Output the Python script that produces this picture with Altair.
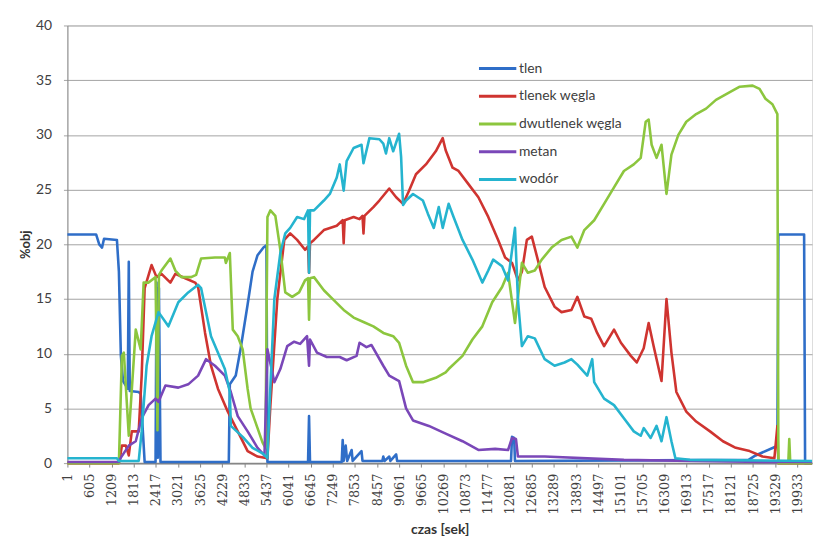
import altair as alt
import pandas as pd

series_names = ["tlen", "tlenek węgla", "dwutlenek węgla", "metan", "wodór"]
series_colors = ["#2F6EC8", "#CF3430", "#8CC63E", "#7A47B8", "#25B4CF"]
x_tick_values = list(range(1, 19934, 604))

tlen_t = [1, 785, 870, 947, 1001, 1353, 1407, 1461, 1520, 1650, 1677, 1704, 1948, 2002, 2110,
          2408, 2435, 2470, 2500, 2543, 4408, 4436, 4598, 4733, 4922, 5057, 5193, 5355, 5436, 5463,
          6572, 6599, 6626, 7491, 7518, 7545, 7600, 7640, 7762, 7790, 8032, 8059, 8600, 8627, 8660,
          8790, 8820, 8978, 9005, 12115, 12142, 12200, 12223, 18600, 18793, 19334, 19388, 19415,
          20118, 20145, 20334]
tlen_v = [20.9, 20.9, 20.0, 19.7, 20.5, 20.4, 17.5, 9.8, 7.5, 6.8, 18.4, 6.6, 6.5, 6.3, 0.1,
          0.1, 16.5, 0.5, 16.0, 0.1, 0.1, 7.2, 8.0, 10.5, 14.5, 17.5, 19.0, 19.7, 19.9, 0.1,
          0.1, 4.3, 0.1, 0.1, 2.1, 0.2, 1.6, 0.2, 1.2, 0.2, 1.1, 0.2, 0.2, 0.6, 0.2,
          0.6, 0.2, 0.8, 0.2, 0.2, 2.4, 2.3, 0.2, 0.3, 0.7, 1.5, 1.5, 20.9,
          20.9, 0.0, 0.0]

co_t = [1, 1407, 1461, 1488, 1596, 1677, 1759, 1948, 2029, 2110, 2299, 2435, 2570, 2813, 2948,
        3219, 3489, 3570, 3760, 3922, 4111, 4381, 4652, 4922, 5193, 5463, 5544, 5733, 5923, 6085,
        6274, 6490, 6572, 6599, 6626, 6734, 7004, 7356, 7518, 7545, 7572, 7816, 7978, 8059, 8086,
        8113, 8356, 8519, 8789, 8978, 9167, 9330, 9519, 9790, 10060, 10249, 10330, 10519, 10681,
        10952, 11223, 11493, 11763, 11953, 12142, 12304, 12412, 12547, 12683, 12845, 13034, 13304,
        13494, 13764, 13927, 14116, 14305, 14467, 14656, 14927, 15116, 15386, 15548, 15738, 15873,
        16008, 16224, 16360, 16495, 16630, 16901, 17171, 17549, 17901, 18252, 18631, 18982, 19307,
        19388, 19415, 20334]
co_v = [0.0, 0.0, 1.0, 1.6, 1.6, 0.7, 2.9, 2.9, 8.0, 16.0, 18.1, 17.0, 17.3, 16.5, 17.3,
        16.9, 16.5, 16.1, 11.9, 8.9, 6.8, 4.7, 2.9, 1.1, 0.6, 0.45, 5.3, 15.0, 20.4, 21.0,
        20.4, 19.5, 19.8, 17.4, 20.1, 20.4, 21.3, 21.7, 22.2, 20.1, 22.2, 22.5, 22.3, 22.6, 21.0,
        22.6, 23.4, 24.0, 25.1, 24.3, 23.7, 24.9, 26.4, 27.3, 28.5, 29.7, 28.6, 27.0, 26.7,
        25.5, 24.3, 22.5, 20.4, 18.8, 18.3, 16.7, 17.5, 20.4, 20.7, 18.6, 16.1, 14.3,
        13.8, 14.0, 15.2, 13.4, 13.2, 11.9, 10.7, 12.2, 11.0, 9.8, 9.2, 10.5, 12.8,
        10.7, 7.5, 15.0, 10.1, 6.5, 4.7, 3.8, 2.9, 2.0, 1.4, 1.1, 0.6, 0.45,
        3.4, 0.0, 0.0]

co2_t = [1, 1407, 1488, 1542, 1677, 1867, 2002, 2083, 2218, 2408, 2460, 2500, 2570, 2813, 2948,
         3111, 3381, 3516, 3651, 4030, 4300, 4327, 4436, 4517, 4652, 4787, 4922, 5003, 5193, 5328,
         5409, 5463, 5544, 5679, 5815, 5950, 6139, 6328, 6490, 6572, 6599, 6626, 6734, 7004, 7275,
         7545, 7816, 8086, 8356, 8627, 8897, 9059, 9249, 9438, 9708, 10060, 10330, 10411, 10790,
         11060, 11331, 11601, 11871, 12034, 12223, 12412, 12574, 12764, 12953, 13224, 13494, 13764,
         13927, 14116, 14386, 14656, 14927, 15197, 15467, 15657, 15792, 15873, 15954, 16089, 16224,
         16360, 16495, 16684, 16901, 17171, 17441, 17711, 18090, 18361, 18712, 18901, 19063, 19253,
         19388, 19415, 19686, 19713, 19740, 20334]
co2_v = [0.0, 0.0, 9.8, 10.1, 2.5, 12.2, 10.4, 16.5, 16.5, 17.0, 3.0, 17.2, 17.6, 18.7, 17.6,
         17.0, 17.0, 17.2, 18.7, 18.8, 18.8, 18.3, 19.2, 12.2, 11.6, 10.4, 6.8, 5.0, 3.2, 1.9,
         1.4, 22.5, 23.1, 22.6, 19.5, 15.6, 15.2, 15.6, 16.7, 16.9, 13.1, 16.9, 17.0, 15.8, 14.9,
         14.0, 13.3, 12.9, 12.5, 11.9, 11.6, 11.0, 8.9, 7.4, 7.4, 7.8, 8.3, 8.6, 9.8,
         11.3, 12.5, 14.7, 16.1, 17.4, 12.8, 18.3, 17.4, 17.6, 18.6, 19.7, 20.4, 20.7,
         19.7, 21.3, 22.2, 23.7, 25.2, 26.7, 27.3, 27.9, 31.2, 31.4, 29.1, 27.9, 29.1,
         24.6, 28.2, 30.0, 31.2, 31.9, 32.4, 33.2, 33.9, 34.4, 34.5, 34.2, 33.3, 32.8,
         31.9, 0.0, 0.0, 2.2, 0.0, 0.0]

ch4_t = [1, 1407, 1461, 1677, 1867, 2029, 2218, 2408, 2489, 2678, 3030, 3300, 3570, 3787, 4030,
         4300, 4463, 4652, 4922, 5193, 5382, 5463, 5652, 5815, 6004, 6193, 6355, 6545, 6599, 6626,
         6815, 7085, 7437, 7626, 7897, 7978, 8167, 8302, 8627, 8789, 9059, 9249, 9438, 9871, 10330,
         10790, 11223, 11682, 12034, 12142, 12250, 12304, 13034, 15197, 17090, 19253, 20334]
ch4_v = [0.1, 0.1, 0.5, 1.6, 2.0, 4.1, 5.3, 5.9, 5.6, 7.1, 6.9, 7.2, 8.0, 9.5, 8.9,
         8.0, 6.5, 4.3, 2.9, 1.4, 0.7, 10.4, 7.4, 8.6, 10.7, 11.1, 10.9, 11.6, 8.9, 11.3,
         10.1, 9.7, 9.7, 9.4, 9.8, 11.0, 10.6, 10.8, 8.9, 8.0, 7.5, 5.0, 3.9, 3.4, 2.7,
         2.0, 1.2, 1.3, 1.2, 2.3, 2.2, 0.6, 0.6, 0.3, 0.2, 0.1, 0.1]

h2_t = [1, 1353, 1407, 1948, 2029, 2164, 2299, 2489, 2759, 3030, 3300, 3570, 3651, 3922, 4300,
        4436, 4463, 4787, 5057, 5328, 5463, 5517, 5652, 5815, 5950, 6085, 6274, 6463, 6572, 6599,
        6626, 6734, 7004, 7167, 7356, 7437, 7545, 7626, 7816, 8032, 8086, 8248, 8519, 8627, 8700,
        8789, 8897, 9059, 9113, 9167, 9249, 9438, 9708, 9844, 10006, 10141, 10249, 10411, 10546,
        10790, 11060, 11331, 11493, 11628, 11871, 12034, 12223, 12304, 12412, 12574, 12764, 13034,
        13304, 13575, 13764, 13927, 14197, 14332, 14386, 14656, 14927, 15197, 15467, 15657, 15738,
        15927, 16089, 16224, 16360, 16495, 16603, 17000, 20334]
h2_v = [0.45, 0.45, 0.2, 0.2, 2.9, 8.9, 11.6, 13.8, 12.5, 14.7, 15.6, 16.3, 16.0, 11.6, 8.6,
        6.5, 3.4, 2.4, 1.4, 0.9, 0.45, 5.0, 15.0, 19.2, 21.0, 21.5, 22.5, 22.3, 23.1, 17.4,
        23.1, 23.1, 24.0, 24.6, 26.1, 27.3, 24.9, 27.6, 28.8, 29.1, 27.4, 29.7, 29.6, 29.2, 28.3,
        29.7, 28.5, 30.1, 28.0, 23.6, 24.0, 24.6, 24.0, 22.8, 21.5, 23.4, 21.5, 23.7, 22.5,
        20.4, 18.6, 16.5, 17.6, 18.6, 18.0, 16.7, 21.5, 14.9, 10.7, 11.6, 11.4, 9.5,
        8.9, 9.2, 9.5, 9.0, 8.0, 9.5, 7.4, 5.9, 5.3, 4.1, 2.9, 2.5, 3.2,
        2.3, 3.4, 2.0, 4.2, 2.0, 0.45, 0.3, 0.2]

rows = []
for name, ts, vs in zip(series_names,
                        [tlen_t, co_t, co2_t, ch4_t, h2_t],
                        [tlen_v, co_v, co2_v, ch4_v, h2_v]):
    for i, (t, v) in enumerate(zip(ts, vs)):
        rows.append({"seria": name, "czas": t, "wartosc": v, "kolejnosc": i})
df = pd.DataFrame(rows)

FONT = "Lato"
XFONT = "DejaVu Serif"

chart = alt.Chart(df).mark_line(strokeWidth=2.6, strokeJoin="round").encode(
    x=alt.X("czas:Q",
            title="czas [sek]",
            scale=alt.Scale(domain=[1, 20334], nice=False, zero=False),
            axis=alt.Axis(values=x_tick_values, format="d", labelAngle=-90, labelOverlap=False,
                          labelFlush=False, grid=False, tickSize=4, labelPadding=6,
                          labelFontSize=13, labelColor="#404040", labelFont=XFONT,
                          titleFont=FONT, titleFontSize=14, titleFontWeight="bold",
                          titleColor="#333333", titlePadding=9,
                          domainColor="#868686", domainWidth=2, tickColor="#868686")),
    y=alt.Y("wartosc:Q",
            title="%obj",
            scale=alt.Scale(domain=[0, 40], nice=False),
            axis=alt.Axis(values=[0, 5, 10, 15, 20, 25, 30, 35, 40], grid=True,
                          gridColor="#A3A3A3", gridWidth=1, tickSize=4, labelPadding=12,
                          labelFontSize=14, labelColor="#404040", labelFont=FONT,
                          titleFont=FONT, titleFontSize=13, titleFontWeight="bold",
                          titleColor="#333333", titlePadding=3,
                          domainColor="#868686", tickColor="#A3A3A3")),
    color=alt.Color("seria:N",
                    scale=alt.Scale(domain=series_names, range=series_colors),
                    legend=alt.Legend(title=None, orient="none", legendX=420, legendY=29,
                                      symbolType="M-1.45,0H1.45", symbolSize=676,
                                      symbolStrokeWidth=3, labelFont=FONT, labelFontSize=14,
                                      labelColor="#404040", labelOffset=7, rowPadding=6,
                                      labelLimit=300)),
    order=alt.Order("kolejnosc:Q"),
).properties(
    width=752,
    height=442,
    padding={"left": 11, "top": 8, "right": 0, "bottom": 0},
).configure_view(
    stroke=None
).configure(
    background="white"
)

chart.save("out.html", embed_options={"renderer": "svg", "actions": False})
